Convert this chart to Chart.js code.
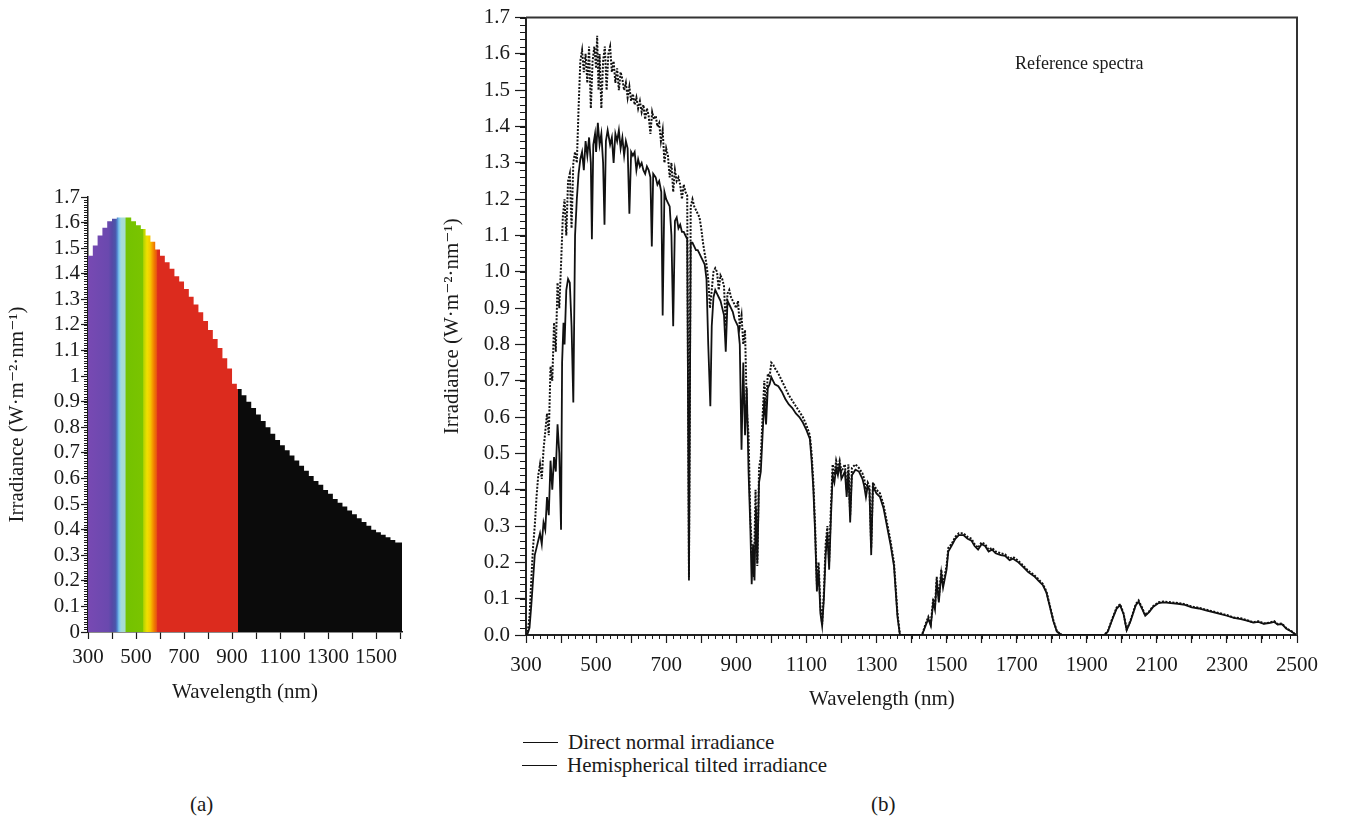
<!DOCTYPE html>
<html>
<head>
<meta charset="utf-8">
<script src="https://cdn.jsdelivr.net/npm/chart.js@4.4.1/dist/chart.umd.min.js"></script>
<style>
    body {
        margin: 0;
        width: 1354px;
        height: 822px;
        background: #fff;
        position: relative;
        overflow: hidden;
        font-family: 'Liberation Serif', 'DejaVu Serif', serif;
        color: #1a1a1a;
    }
    canvas, .txt { position: absolute; }
    .txt { white-space: nowrap; font-size: 21px; line-height: 24px; }
    .legend__line { position: absolute; height: 0; border-top: 1.6px solid #111; }
</style>
</head>
<body>
<canvas id="chartA" width="420" height="560" style="left:0;top:150px"></canvas>
<canvas id="chartB" width="934" height="720" style="left:420px;top:0"></canvas>

<div class="txt" style="left:1015px;top:51px;font-size:18px">Reference spectra</div>
<div class="txt" id="titleXB" style="left:809px;top:686px">Wavelength (nm)</div>
<div id="legendB"></div>
<div class="txt" style="left:190px;top:792px">(a)</div>
<div class="txt" style="left:871px;top:792px">(b)</div>

<script>
// ---- (a) blackbody-like spectrum, 20 nm bins (bin start wavelength -> irradiance)
const binStart = [
    300, 320, 340, 360, 380, 400, 420, 440, 460, 480,
    500, 520, 540, 560, 580, 600, 620, 640, 660, 680,
    700, 720, 740, 760, 780, 800, 820, 840, 860, 880,
    900, 920, 940, 960, 980, 1000, 1020, 1040, 1060, 1080,
    1100, 1120, 1140, 1160, 1180, 1200, 1220, 1240, 1260, 1280,
    1300, 1320, 1340, 1360, 1380, 1400, 1420, 1440, 1460, 1480,
    1500, 1520, 1540, 1560, 1580, 1600
];
const binIrr = [
    1.43, 1.47, 1.51, 1.55, 1.58, 1.605, 1.615, 1.62, 1.62, 1.62,
    1.605, 1.59, 1.575, 1.55, 1.525, 1.495, 1.47, 1.445, 1.42, 1.39,
    1.37, 1.34, 1.31, 1.28, 1.25, 1.215, 1.18, 1.145, 1.11, 1.07,
    1.03, 0.97, 0.95, 0.925, 0.90, 0.875, 0.85, 0.825, 0.80, 0.775,
    0.75, 0.73, 0.71, 0.69, 0.67, 0.65, 0.63, 0.61, 0.59, 0.575,
    0.555, 0.54, 0.52, 0.505, 0.49, 0.475, 0.46, 0.445, 0.43, 0.415,
    0.40, 0.39, 0.38, 0.37, 0.36, 0.35
];

// ---- (b) reference spectra: hemispherical tilted (dotted) and direct normal (solid)
const gtiWl = [
    300, 305, 310, 315, 320, 325, 330, 335, 340, 345, 350, 355, 360, 365, 370, 375, 380, 385, 390, 395,
    400, 405, 410, 415, 420, 425, 430, 435, 440, 445, 450, 455, 460, 465, 470, 475, 480, 485, 490, 495,
    500, 503, 507, 510, 515, 520, 525, 530, 535, 540, 545, 550, 555, 560, 565, 570, 575, 580, 585, 590,
    595, 600, 605, 610, 615, 620, 625, 630, 635, 640, 645, 650, 655, 660, 665, 670, 675, 680, 685, 690,
    695, 700, 705, 710, 715, 720, 725, 730, 735, 740, 745, 750, 755, 760, 765, 770, 775, 780, 785, 790,
    795, 800, 805, 810, 815, 820, 825, 830, 835, 840, 845, 850, 855, 860, 865, 870, 875, 880, 885, 890,
    895, 900, 905, 910, 915, 920, 925, 930, 935, 940, 945, 950, 955, 960, 965, 970, 975, 980, 985, 990,
    995, 1000, 1005, 1010, 1020, 1030, 1040, 1050, 1060, 1070, 1080, 1090, 1100, 1110, 1115, 1120, 1125, 1130, 1135, 1140,
    1145, 1150, 1155, 1160, 1165, 1170, 1175, 1180, 1185, 1190, 1195, 1200, 1210, 1215, 1220, 1225, 1230, 1240, 1250, 1260,
    1265, 1270, 1275, 1280, 1285, 1290, 1300, 1310, 1320, 1330, 1340, 1350, 1355, 1360, 1367, 1430, 1440, 1448, 1455, 1462,
    1467, 1472, 1478, 1485, 1490, 1500, 1505, 1514, 1525, 1535, 1548, 1560, 1571, 1580, 1590, 1600, 1610, 1620, 1630, 1640,
    1655, 1667, 1680, 1690, 1705, 1720, 1733, 1750, 1762, 1775, 1785, 1795, 1805, 1815, 1829, 1950, 1960, 1971, 1985, 1995,
    2005, 2014, 2025, 2040, 2048, 2058, 2067, 2078, 2090, 2105, 2120, 2140, 2160, 2180, 2200, 2220, 2240, 2260, 2280, 2300,
    2320, 2340, 2360, 2375, 2390, 2405, 2420, 2435, 2445, 2457, 2470, 2485, 2495, 2500
];
const gtiIrr = [
    0, 0.01, 0.05, 0.15, 0.24, 0.30, 0.38, 0.44, 0.47, 0.43, 0.51, 0.56, 0.61, 0.55, 0.74, 0.70, 0.86, 0.78, 0.97, 0.90,
    1.02, 1.15, 1.20, 1.10, 1.25, 1.27, 1.12, 1.30, 1.33, 1.30, 1.45, 1.58, 1.61, 1.55, 1.60, 1.52, 1.62, 1.45, 1.58, 1.62,
    1.56, 1.65, 1.50, 1.60, 1.45, 1.58, 1.62, 1.50, 1.60, 1.62, 1.55, 1.58, 1.52, 1.56, 1.50, 1.55, 1.53, 1.50, 1.52, 1.48,
    1.51, 1.47, 1.49, 1.46, 1.48, 1.45, 1.47, 1.44, 1.46, 1.42, 1.45, 1.43, 1.38, 1.44, 1.42, 1.43, 1.40, 1.41, 1.36, 1.39,
    1.30, 1.34, 1.32, 1.26, 1.30, 1.22, 1.28, 1.25, 1.26, 1.24, 1.20, 1.24, 1.22, 1.21, 0.16, 1.18, 1.20, 1.18, 1.17, 1.16,
    1.15, 1.12, 1.08, 1.05, 1.02, 0.98, 0.90, 0.95, 1.00, 1.01, 1.00, 0.95, 0.99, 0.98, 0.96, 0.85, 0.94, 0.95, 0.93, 0.92,
    0.91, 0.90, 0.92, 0.85, 0.88, 0.80, 0.84, 0.62, 0.55, 0.33, 0.22, 0.16, 0.40, 0.19, 0.46, 0.49, 0.60, 0.70, 0.63, 0.72,
    0.71, 0.75, 0.745, 0.735, 0.72, 0.70, 0.68, 0.66, 0.645, 0.63, 0.615, 0.60, 0.578, 0.55, 0.50, 0.42, 0.30, 0.14, 0.20, 0.08,
    0.03, 0.12, 0.25, 0.30, 0.20, 0.35, 0.47, 0.44, 0.48, 0.46, 0.48, 0.45, 0.47, 0.40, 0.47, 0.33, 0.46, 0.47, 0.46, 0.445,
    0.43, 0.40, 0.42, 0.41, 0.24, 0.42, 0.40, 0.39, 0.36, 0.31, 0.26, 0.20, 0.13, 0.06, 0, 0, 0.03, 0.05, 0.03, 0.10,
    0.08, 0.16, 0.10, 0.18, 0.14, 0.19, 0.24, 0.25, 0.27, 0.28, 0.28, 0.27, 0.265, 0.25, 0.24, 0.255, 0.25, 0.235, 0.24, 0.23,
    0.225, 0.222, 0.21, 0.215, 0.204, 0.19, 0.177, 0.165, 0.154, 0.14, 0.12, 0.08, 0.04, 0.01, 0, 0, 0.01, 0.04, 0.075, 0.085,
    0.06, 0.015, 0.04, 0.085, 0.095, 0.075, 0.055, 0.065, 0.08, 0.09, 0.092, 0.09, 0.088, 0.085, 0.078, 0.075, 0.07, 0.065, 0.06, 0.055,
    0.048, 0.046, 0.04, 0.035, 0.038, 0.032, 0.034, 0.038, 0.03, 0.032, 0.018, 0.01, 0.002, 0
];

const dniWl = [
    300, 305, 310, 315, 320, 325, 330, 335, 340, 345, 350, 355, 360, 365, 370, 375, 380, 385, 390, 395,
    400, 403, 407, 410, 415, 420, 425, 430, 435, 440, 445, 450, 455, 460, 465, 470, 475, 480, 485, 488,
    492, 497, 500, 505, 510, 515, 520, 524, 528, 533, 540, 545, 550, 555, 560, 565, 570, 575, 580, 585,
    590, 595, 600, 605, 610, 615, 620, 625, 630, 635, 640, 645, 650, 655, 659, 663, 670, 675, 680, 686,
    690, 695, 700, 705, 710, 715, 720, 725, 730, 735, 740, 745, 750, 755, 760, 765, 770, 775, 780, 785,
    790, 795, 800, 805, 810, 815, 820, 826, 830, 835, 840, 845, 850, 855, 860, 865, 870, 875, 880, 885,
    890, 895, 900, 905, 910, 915, 920, 925, 930, 935, 940, 944, 948, 952, 956, 960, 965, 970, 975, 980,
    985, 990, 995, 1000, 1005, 1010, 1020, 1030, 1040, 1050, 1060, 1070, 1080, 1090, 1100, 1110, 1115, 1120, 1125, 1130,
    1135, 1140, 1145, 1150, 1155, 1160, 1165, 1170, 1175, 1180, 1185, 1190, 1195, 1200, 1210, 1215, 1220, 1225, 1230, 1240,
    1250, 1260, 1265, 1270, 1275, 1280, 1285, 1290, 1300, 1310, 1320, 1330, 1340, 1350, 1355, 1360, 1367, 1430, 1440, 1448,
    1455, 1462, 1467, 1472, 1478, 1485, 1490, 1500, 1505, 1514, 1525, 1535, 1548, 1560, 1571, 1580, 1590, 1600, 1610, 1620,
    1630, 1640, 1655, 1667, 1680, 1690, 1705, 1720, 1733, 1750, 1762, 1775, 1785, 1795, 1805, 1815, 1829, 1950, 1960, 1971,
    1985, 1995, 2005, 2014, 2025, 2040, 2048, 2058, 2067, 2078, 2090, 2105, 2120, 2140, 2160, 2180, 2200, 2220, 2240, 2260,
    2280, 2300, 2320, 2340, 2360, 2375, 2390, 2405, 2420, 2435, 2445, 2457, 2470, 2485, 2495, 2500
];
const dniIrr = [
    0, 0.005, 0.02, 0.08, 0.15, 0.22, 0.24, 0.26, 0.28, 0.25, 0.31, 0.29, 0.38, 0.33, 0.48, 0.40, 0.49, 0.45, 0.58, 0.50,
    0.29, 0.75, 0.86, 0.80, 0.95, 0.98, 0.97, 0.85, 0.64, 1.10, 1.20, 1.27, 1.31, 1.33, 1.28, 1.36, 1.32, 1.37, 1.30, 1.09,
    1.35, 1.38, 1.33, 1.41, 1.35, 1.38, 1.30, 1.13, 1.36, 1.39, 1.35, 1.37, 1.30, 1.38, 1.36, 1.39, 1.34, 1.37, 1.32, 1.36,
    1.34, 1.16, 1.33, 1.32, 1.33, 1.28, 1.31, 1.29, 1.30, 1.28, 1.27, 1.29, 1.28, 1.26, 1.07, 1.27, 1.26, 1.24, 1.25, 1.22,
    0.88, 1.22, 1.20, 1.19, 1.18, 1.10, 0.85, 1.14, 1.15, 1.12, 1.13, 1.11, 1.11, 1.10, 1.09, 0.15, 1.08, 1.08, 1.07, 1.06,
    1.06, 1.05, 1.04, 1.03, 1.02, 0.98, 0.80, 0.63, 0.85, 0.93, 0.95, 0.94, 0.93, 0.92, 0.90, 0.88, 0.78, 0.92, 0.91, 0.90,
    0.89, 0.87, 0.86, 0.85, 0.80, 0.51, 0.75, 0.55, 0.68, 0.45, 0.30, 0.14, 0.25, 0.15, 0.35, 0.20, 0.42, 0.45, 0.55, 0.65,
    0.58, 0.68, 0.69, 0.71, 0.70, 0.69, 0.685, 0.67, 0.65, 0.635, 0.625, 0.61, 0.60, 0.585, 0.565, 0.54, 0.48, 0.40, 0.28, 0.12,
    0.18, 0.06, 0.025, 0.10, 0.22, 0.28, 0.18, 0.32, 0.44, 0.42, 0.46, 0.44, 0.47, 0.43, 0.45, 0.38, 0.45, 0.31, 0.44, 0.455,
    0.45, 0.43, 0.41, 0.38, 0.41, 0.40, 0.22, 0.41, 0.39, 0.38, 0.35, 0.30, 0.25, 0.19, 0.12, 0.05, 0, 0, 0.025, 0.045,
    0.025, 0.09, 0.07, 0.15, 0.09, 0.17, 0.13, 0.18, 0.23, 0.245, 0.265, 0.275, 0.275, 0.265, 0.26, 0.245, 0.235, 0.25, 0.245, 0.23,
    0.235, 0.225, 0.22, 0.218, 0.206, 0.21, 0.20, 0.186, 0.173, 0.162, 0.15, 0.137, 0.117, 0.077, 0.038, 0.009, 0, 0, 0.009, 0.038,
    0.072, 0.082, 0.058, 0.013, 0.038, 0.082, 0.092, 0.072, 0.053, 0.063, 0.078, 0.088, 0.09, 0.088, 0.086, 0.083, 0.076, 0.073, 0.068, 0.063,
    0.058, 0.053, 0.047, 0.044, 0.039, 0.034, 0.036, 0.031, 0.033, 0.036, 0.029, 0.03, 0.017, 0.009, 0.002, 0
];

const yTicksA = { min: 0, max: 1.7, step: 0.1 };
const xTicksA = { min: 300, max: 1608, step: 100, labelStep: 200 };
const yTicksB = { min: 0, max: 1.7, step: 0.1 };
const xTicksB = { min: 300, max: 2500, step: 100, labelStep: 200 };

// colour of the visible spectrum under curve (a): wavelength -> colour
const spectrumStops = [
    [300, '#7849b3'], [385, '#6a49ae'], [400, '#5649a7'], [414, '#4b56aa'], [421, '#4f7dc9'],
    [427, '#70b6e6'], [433, '#92d2ec'], [440, '#a6dcd6'], [454, '#a6dccf'], [459, '#74c200'],
    [527, '#7ac400'], [532, '#b6d400'], [541, '#dcdc00'], [546, '#f0e000'], [559, '#f4c800'],
    [566, '#f6a600'], [576, '#f07a00'], [585, '#e85810'], [590, '#dc2b1e'], [924, '#dc2b1e'],
    [926, '#0b0b0b'], [1608, '#0b0b0b']
];

const FONT = "'Liberation Serif', 'DejaVu Serif', serif";
const INK = '#1a1a1a';

const toPoints = (xs, ys) => xs.map((x, i) => ({ x: x, y: ys[i] }));

// fixed tick positions min, min+step, ... (<= max)
const tickList = (t) => {
    const n = Math.floor((t.max - t.min) / t.step + 1e-9);
    return Array.from({ length: n + 1 }, (_, i) => ({ value: +(t.min + i * t.step).toFixed(6) }));
};

// small ticks between the labelled ones
const minorTicks = {
    id: 'minorTicks',
    afterDraw(chart, args, opts) {
        const ctx = chart.ctx;
        ctx.save();
        ctx.strokeStyle = INK;
        ctx.lineWidth = 1;
        ['x', 'y'].forEach(id => {
            const o = opts[id];
            if (!o) return;
            const s = chart.scales[id];
            const n = Math.round((s.max - s.min) / o.step);
            for (let i = 0; i <= n; i++) {
                const p = Math.round(s.getPixelForValue(s.min + i * o.step)) + 0.5;
                ctx.beginPath();
                if (s.isHorizontal()) {
                    ctx.moveTo(p, s.top);
                    ctx.lineTo(p, s.top + o.len);
                } else {
                    ctx.moveTo(s.right, p);
                    ctx.lineTo(s.right - o.len, p);
                }
                ctx.stroke();
            }
        });
        ctx.restore();
    }
};

// top and right edges of the box around plot (b)
const frameBox = {
    id: 'frameBox',
    afterDatasetsDraw(chart, args, opts) {
        if (!opts.display) return;
        const { ctx, chartArea: a } = chart;
        ctx.save();
        ctx.strokeStyle = '#333';
        ctx.lineWidth = 2;
        ctx.beginPath();
        ctx.moveTo(a.left, a.top);
        ctx.lineTo(a.right, a.top);
        ctx.lineTo(a.right, a.bottom);
        ctx.stroke();
        ctx.restore();
    }
};

Chart.register(minorTicks, frameBox);

const spectrumFill = (context) => {
    const chart = context.chart;
    const xs = chart.scales.x;
    if (!chart.chartArea || !xs) return spectrumStops[0][1];
    const x0 = xs.getPixelForValue(spectrumStops[0][0]);
    const x1 = xs.getPixelForValue(spectrumStops[spectrumStops.length - 1][0]);
    const g = chart.ctx.createLinearGradient(x0, 0, x1, 0);
    spectrumStops.forEach(([w, c]) => {
        g.addColorStop(Math.min(1, Math.max(0, (xs.getPixelForValue(w) - x0) / (x1 - x0))), c);
    });
    return g;
};

const tickFont = { family: FONT, size: 21 };

// ---------- chart (a)
const ptsA = toPoints(binStart, binIrr);
ptsA.push({ x: xTicksA.max, y: binIrr[binIrr.length - 1] });

const chartA = new Chart(document.getElementById('chartA'), {
    type: 'line',
    data: {
        datasets: [{
            label: 'Irradiance',
            data: ptsA,
            stepped: 'after',
            fill: 'origin',
            backgroundColor: spectrumFill,
            borderWidth: 0,
            pointRadius: 0,
        }]
    },
    options: {
        responsive: false,
        animation: false,
        parsing: false,
        layout: { padding: { left: 5, top: 47, right: 18, bottom: 0 } },
        plugins: {
            legend: { display: false },
            tooltip: { enabled: false },
            minorTicks: { y: { step: 0.01, len: 4 } },
            frameBox: { display: false }
        },
        scales: {
            x: {
                type: 'linear',
                min: xTicksA.min,
                max: xTicksA.max,
                afterBuildTicks: (s) => { s.ticks = tickList(xTicksA); },
                afterFit: (s) => { s.height = 78; },
                border: { display: true, color: INK, width: 1.5 },
                grid: { drawOnChartArea: false, drawTicks: true, tickLength: 7, tickColor: INK, tickWidth: 1.2 },
                ticks: {
                    autoSkip: false,
                    maxRotation: 0,
                    padding: 6,
                    color: INK,
                    font: tickFont,
                    callback: (v) => (Math.round(v - xTicksA.min) % xTicksA.labelStep === 0 ? v : '')
                },
                title: {
                    display: true,
                    text: 'Wavelength (nm)',
                    color: INK,
                    font: tickFont,
                    padding: { top: 0, bottom: 5 }
                }
            },
            y: {
                min: yTicksA.min,
                max: yTicksA.max,
                afterBuildTicks: (s) => { s.ticks = tickList(yTicksA); },
                afterFit: (s) => { s.width = 83; },
                border: { display: true, color: INK, width: 1.5 },
                grid: { drawOnChartArea: false, drawTicks: true, tickLength: 7, tickColor: INK, tickWidth: 1.2 },
                ticks: {
                    autoSkip: false,
                    padding: 1,
                    color: INK,
                    font: tickFont,
                    callback: (v) => String(Number(v.toFixed(1)))
                },
                title: {
                    display: true,
                    text: 'Irradiance (W·m⁻²·nm⁻¹)',
                    color: INK,
                    font: tickFont,
                    padding: { top: 0, bottom: 0 }
                }
            }
        }
    }
});

// ---------- chart (b)
const chartB = new Chart(document.getElementById('chartB'), {
    type: 'line',
    data: {
        datasets: [{
            label: 'Hemispherical tilted irradiance',
            data: toPoints(gtiWl, gtiIrr),
            borderColor: '#111',
            borderWidth: 2,
            borderDash: [2, 1.5],
            pointRadius: 0,
            tension: 0,
            fill: false,
        }, {
            label: 'Direct normal irradiance',
            data: toPoints(dniWl, dniIrr),
            borderColor: '#111',
            borderWidth: 1.8,
            pointRadius: 0,
            tension: 0,
            fill: false,
        }]
    },
    options: {
        responsive: false,
        animation: false,
        parsing: false,
        layout: { padding: { left: 20, top: 10, right: 57, bottom: 0 } },
        plugins: {
            legend: { display: false },
            tooltip: { enabled: false },
            minorTicks: { x: { step: 20, len: 4 }, y: { step: 0.02, len: 6 } },
            frameBox: { display: true }
        },
        scales: {
            x: {
                type: 'linear',
                min: xTicksB.min,
                max: xTicksB.max,
                afterBuildTicks: (s) => { s.ticks = tickList(xTicksB); },
                afterFit: (s) => { s.height = 85; },
                border: { display: true, color: '#222', width: 2 },
                grid: { drawOnChartArea: false, drawTicks: true, tickLength: 8, tickColor: INK, tickWidth: 1.2 },
                ticks: {
                    autoSkip: false,
                    maxRotation: 0,
                    padding: 10,
                    color: INK,
                    font: tickFont,
                    callback: (v) => (Math.round(v - xTicksB.min) % xTicksB.labelStep === 0 ? v : '')
                },
                title: { display: false }
            },
            y: {
                min: yTicksB.min,
                max: yTicksB.max,
                afterBuildTicks: (s) => { s.ticks = tickList(yTicksB); },
                afterFit: (s) => { s.width = 86; },
                border: { display: true, color: '#222', width: 2 },
                grid: { drawOnChartArea: false, drawTicks: true, tickLength: 11, tickColor: INK, tickWidth: 1.2 },
                ticks: {
                    autoSkip: false,
                    padding: 5,
                    color: INK,
                    font: tickFont,
                    callback: (v) => v.toFixed(1)
                },
                title: {
                    display: true,
                    text: 'Irradiance (W·m⁻²·nm⁻¹)',
                    color: INK,
                    font: tickFont,
                    padding: { top: 0, bottom: 0 }
                }
            }
        }
    }
});

// legend under (b): same order as in the figure
const legendEl = document.getElementById('legendB');
const legendRows = [chartB.data.datasets[1], chartB.data.datasets[0]];
legendRows.forEach((ds, i) => {
    const top = 730 + i * 23;
    const line = document.createElement('div');
    line.className = 'legend__line';
    line.style.left = (523 - i) + 'px';
    line.style.width = 35 + 'px';
    line.style.top = (top + 12) + 'px';
    line.style.borderTopWidth = (i === 0 ? 1.8 : 1.4) + 'px';
    const txt = document.createElement('div');
    txt.className = 'txt';
    txt.style.left = (568 - i) + 'px';
    txt.style.top = top + 'px';
    txt.textContent = ds.label;
    legendEl.appendChild(line);
    legendEl.appendChild(txt);
});
</script>
</body>
</html>
